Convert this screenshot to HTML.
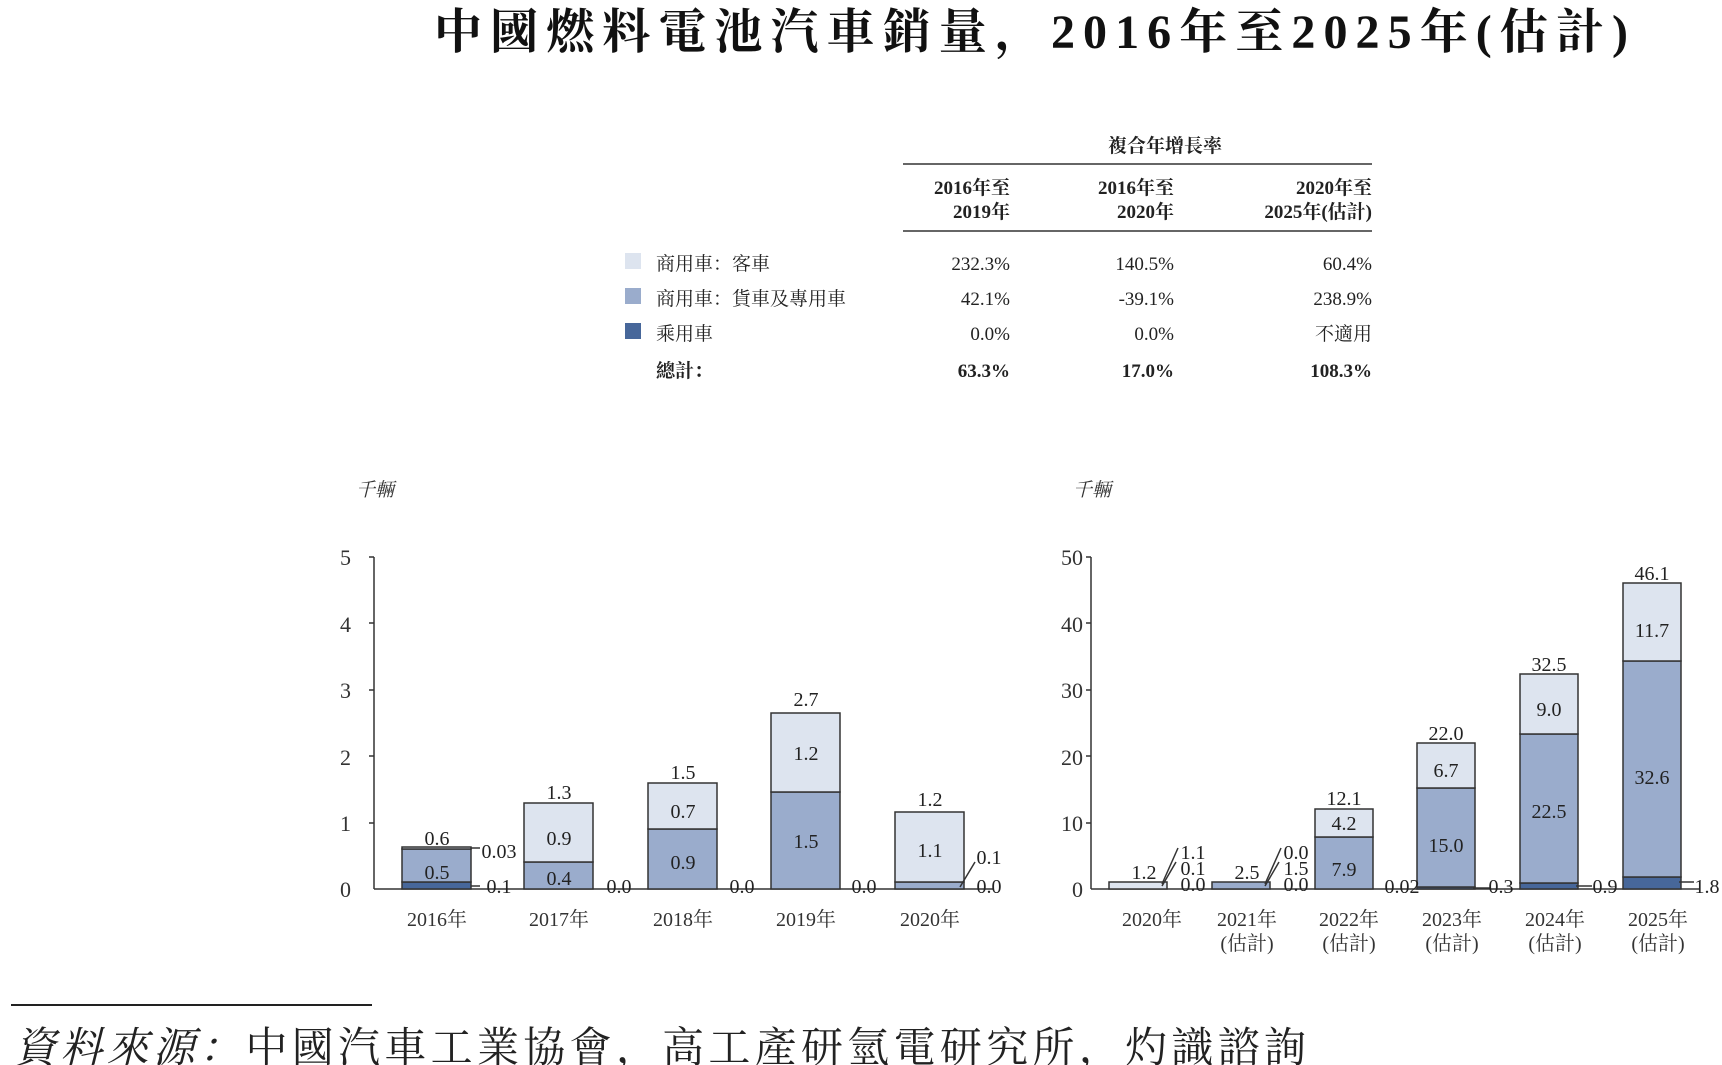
<!DOCTYPE html>
<html><head><meta charset="utf-8"><style>
body{margin:0;background:#fff;}
svg{display:block;font-family:"Liberation Serif","Noto Serif CJK SC",serif;}
</style></head><body>
<svg width="1722" height="1065" viewBox="0 0 1722 1065" xmlns="http://www.w3.org/2000/svg">
<text x="434" y="48" font-size="48" font-weight="bold" fill="#111" textLength="1194" lengthAdjust="spacing">中國燃料電池汽車銷量，2016年至2025年(估計)</text>

<g font-size="19" fill="#222">
<text x="1165" y="152" text-anchor="middle" font-weight="bold">複合年增長率</text>
<line x1="903" y1="164" x2="1372" y2="164" stroke="#333" stroke-width="1.5"/>
<g font-weight="bold" text-anchor="end">
<text x="1010" y="194">2016年至</text><text x="1010" y="218">2019年</text>
<text x="1174" y="194">2016年至</text><text x="1174" y="218">2020年</text>
<text x="1372" y="194">2020年至</text><text x="1372" y="218">2025年(估計)</text>
</g>
<line x1="903" y1="231" x2="1372" y2="231" stroke="#333" stroke-width="1.5"/>
<rect x="625" y="253" width="16" height="16" fill="#dde4ef"/>
<rect x="625" y="288" width="16" height="16" fill="#9aaccc"/>
<rect x="625" y="323" width="16" height="16" fill="#47679a"/>
<text x="656" y="270">商用車：客車</text>
<text x="656" y="305">商用車：貨車及專用車</text>
<text x="656" y="340">乘用車</text>
<text x="656" y="377" font-weight="bold">總計：</text>
<g text-anchor="end">
<text x="1010" y="270">232.3%</text><text x="1174" y="270">140.5%</text><text x="1372" y="270">60.4%</text>
<text x="1010" y="305">42.1%</text><text x="1174" y="305">-39.1%</text><text x="1372" y="305">238.9%</text>
<text x="1010" y="340">0.0%</text><text x="1174" y="340">0.0%</text><text x="1372" y="340">不適用</text>
<g font-weight="bold"><text x="1010" y="377">63.3%</text><text x="1174" y="377">17.0%</text><text x="1372" y="377">108.3%</text></g>
</g>
</g>

<g font-size="19" font-style="italic" fill="#333"><text x="356" y="496">千輛</text><text x="1073" y="496">千輛</text></g>

<!-- left chart -->
<g stroke="#333" stroke-width="1.5" fill="none">
<line x1="374" y1="557" x2="374" y2="889"/><line x1="374" y1="889" x2="994" y2="889"/>
<line x1="369" y1="557" x2="374" y2="557"/><line x1="369" y1="623" x2="374" y2="623"/><line x1="369" y1="690" x2="374" y2="690"/><line x1="369" y1="756" x2="374" y2="756"/><line x1="369" y1="823" x2="374" y2="823"/>
</g>
<g font-size="22" fill="#333" text-anchor="end">
<text x="351" y="565">5</text><text x="351" y="632">4</text><text x="351" y="698">3</text><text x="351" y="765">2</text><text x="351" y="831">1</text><text x="351" y="897">0</text>
</g>
<g stroke="#333" stroke-width="1.5">
<rect x="402" y="882" width="69" height="7" fill="#47679a"/>
<rect x="402" y="849" width="69" height="33" fill="#9aaccc"/>
<rect x="402" y="847" width="69" height="2" fill="#dde4ef"/>
<rect x="524" y="862" width="69" height="27" fill="#9aaccc"/>
<rect x="524" y="803" width="69" height="59" fill="#dde4ef"/>
<rect x="648" y="829" width="69" height="60" fill="#9aaccc"/>
<rect x="648" y="783" width="69" height="46" fill="#dde4ef"/>
<rect x="771" y="792" width="69" height="97" fill="#9aaccc"/>
<rect x="771" y="713" width="69" height="79" fill="#dde4ef"/>
<rect x="895" y="882" width="69" height="7" fill="#9aaccc"/>
<rect x="895" y="812" width="69" height="70" fill="#dde4ef"/>
<line x1="471" y1="848" x2="480" y2="848"/><line x1="471" y1="886" x2="480" y2="886"/>
<line x1="960" y1="887" x2="975" y2="862"/>
</g>
<g font-size="20" fill="#222" text-anchor="middle">
<text x="437" y="845">0.6</text><text x="437" y="879">0.5</text><text x="499" y="858">0.03</text><text x="499" y="893">0.1</text>
<text x="559" y="799">1.3</text><text x="559" y="845">0.9</text><text x="559" y="885">0.4</text><text x="619" y="893">0.0</text>
<text x="683" y="779">1.5</text><text x="683" y="818">0.7</text><text x="683" y="869">0.9</text><text x="742" y="893">0.0</text>
<text x="806" y="706">2.7</text><text x="806" y="760">1.2</text><text x="806" y="848">1.5</text><text x="864" y="893">0.0</text>
<text x="930" y="806">1.2</text><text x="930" y="857">1.1</text><text x="989" y="864">0.1</text><text x="989" y="893">0.0</text>
</g>
<g font-size="20" fill="#333" text-anchor="middle">
<text x="437" y="926">2016年</text><text x="559" y="926">2017年</text><text x="683" y="926">2018年</text><text x="806" y="926">2019年</text><text x="930" y="926">2020年</text>
</g>

<!-- right chart -->
<g stroke="#333" stroke-width="1.5" fill="none">
<line x1="1091" y1="557" x2="1091" y2="889"/><line x1="1091" y1="889" x2="1700" y2="889"/>
<line x1="1086" y1="557" x2="1091" y2="557"/><line x1="1086" y1="623" x2="1091" y2="623"/><line x1="1086" y1="690" x2="1091" y2="690"/><line x1="1086" y1="756" x2="1091" y2="756"/><line x1="1086" y1="823" x2="1091" y2="823"/>
</g>
<g font-size="22" fill="#333" text-anchor="end">
<text x="1083" y="565">50</text><text x="1083" y="632">40</text><text x="1083" y="698">30</text><text x="1083" y="765">20</text><text x="1083" y="831">10</text><text x="1083" y="897">0</text>
</g>
<g stroke="#333" stroke-width="1.5">
<rect x="1109" y="882" width="58" height="7" fill="#dde4ef"/>
<rect x="1212" y="882" width="58" height="7" fill="#9aaccc"/>
<rect x="1315" y="837" width="58" height="52" fill="#9aaccc"/>
<rect x="1315" y="809" width="58" height="28" fill="#dde4ef"/>
<rect x="1417" y="887" width="58" height="2" fill="#47679a"/>
<rect x="1417" y="788" width="58" height="99" fill="#9aaccc"/>
<rect x="1417" y="743" width="58" height="45" fill="#dde4ef"/>
<rect x="1520" y="883" width="58" height="6" fill="#47679a"/>
<rect x="1520" y="734" width="58" height="149" fill="#9aaccc"/>
<rect x="1520" y="674" width="58" height="60" fill="#dde4ef"/>
<rect x="1623" y="877" width="58" height="12" fill="#47679a"/>
<rect x="1623" y="661" width="58" height="216" fill="#9aaccc"/>
<rect x="1623" y="583" width="58" height="78" fill="#dde4ef"/>
<line x1="1162" y1="884" x2="1178" y2="848"/><line x1="1162" y1="886" x2="1176" y2="862"/>
<line x1="1265" y1="884" x2="1281" y2="848"/><line x1="1265" y1="886" x2="1279" y2="862"/>
<line x1="1473" y1="888" x2="1490" y2="888"/><line x1="1576" y1="886" x2="1592" y2="886"/><line x1="1679" y1="882" x2="1694" y2="882"/>
</g>
<g font-size="20" fill="#222" text-anchor="middle">
<text x="1144" y="879">1.2</text><text x="1193" y="859">1.1</text><text x="1193" y="875">0.1</text><text x="1193" y="891">0.0</text>
<text x="1247" y="879">2.5</text><text x="1296" y="859">0.0</text><text x="1296" y="875">1.5</text><text x="1296" y="891">0.0</text>
<text x="1344" y="805">12.1</text><text x="1344" y="830">4.2</text><text x="1344" y="876">7.9</text><text x="1402" y="893">0.02</text>
<text x="1446" y="740">22.0</text><text x="1446" y="777">6.7</text><text x="1446" y="852">15.0</text><text x="1501" y="893">0.3</text>
<text x="1549" y="671">32.5</text><text x="1549" y="716">9.0</text><text x="1549" y="818">22.5</text><text x="1605" y="893">0.9</text>
<text x="1652" y="580">46.1</text><text x="1652" y="637">11.7</text><text x="1652" y="784">32.6</text><text x="1707" y="893">1.8</text>
</g>
<g font-size="20" fill="#333" text-anchor="middle">
<text x="1152" y="926">2020年</text>
<text x="1247" y="926">2021年</text><text x="1247" y="950">(估計)</text>
<text x="1349" y="926">2022年</text><text x="1349" y="950">(估計)</text>
<text x="1452" y="926">2023年</text><text x="1452" y="950">(估計)</text>
<text x="1555" y="926">2024年</text><text x="1555" y="950">(估計)</text>
<text x="1658" y="926">2025年</text><text x="1658" y="950">(估計)</text>
</g>

<line x1="11" y1="1005" x2="372" y2="1005" stroke="#222" stroke-width="2"/>
<text x="14" y="1062" font-size="42" fill="#222" textLength="1292" lengthAdjust="spacing"><tspan font-style="italic">資料來源：</tspan>中國汽車工業協會，高工產研氫電研究所，灼識諮詢</text>
</svg>
</body></html>
